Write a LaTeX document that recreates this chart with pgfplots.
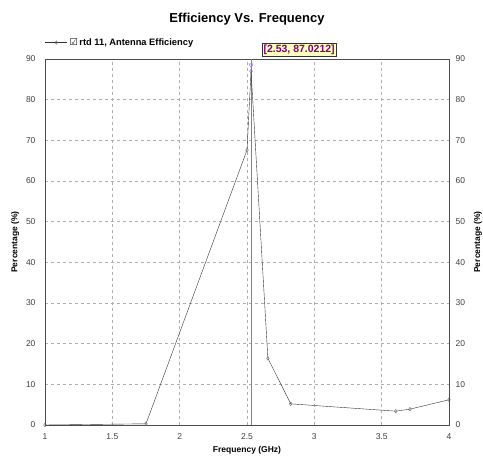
\documentclass[border=0pt]{standalone}
\usepackage{pgfplots}
\pgfplotsset{compat=1.18}
\usepackage{fontspec}
\setmainfont{Liberation Sans}
\newfontfamily\symfont{DejaVu Sans}
\definecolor{gridgray}{RGB}{175,175,175}
\definecolor{cursorblue}{rgb}{0.45,0.45,1}
\definecolor{tipfill}{RGB}{255,255,190}
\definecolor{tiptext}{RGB}{128,0,128}
\begin{document}
\begin{tikzpicture}
\pgfplotsset{
  common/.style={
    width=404pt, height=366pt, scale only axis,
    xmin=1, xmax=4, ymin=0, ymax=90,
    ytick={0,10,...,90},
    major tick length=0pt,
    tick label style={font=\fontsize{8.5}{10}\selectfont, text=black!75},
    label style={font=\bfseries\fontsize{8.5}{10}\selectfont},
    /pgf/number format/assume math mode=true,
  }
}
\begin{axis}[common,
    name=main,
    clip=false,
    axis line style={black!70},
    grid=major,
    grid style={gridgray, dashed},
    xtick={1,1.5,...,4},
    xticklabel style={yshift=-5pt},
    yticklabel style={xshift=-6pt},
    xlabel={Frequency (GHz)},
    ylabel={Percentage (\%)},
    xlabel style={yshift=0pt},
    ylabel style={yshift=0pt},
    title={Efficiency Vs. Frequency},
    title style={font=\bfseries\fontsize{13}{15}\selectfont, yshift=24pt},
    legend style={at={(0,1.045)}, anchor=west, draw=none, fill=none,
      font=\bfseries\fontsize{9.3}{10}\selectfont, inner sep=0pt,
      legend cell align=left},
    legend image code/.code={
      \draw[#1, mark repeat=2, mark phase=2] plot coordinates {(0pt,0pt) (11pt,0pt) (22pt,0pt)};
    },
  ]
  % cursor, drawn first
  \addplot[draw=cursorblue, line width=1pt, mark=none, forget plot]
    coordinates {(2.53,0) (2.53,90)};
  \addplot[black!80, thin, mark=diamond, mark size=1.8pt,
    mark options={black!60, fill=white, solid}] coordinates {
    (1,0)
    (1.75,0.3)
    (2.5,67.6)
    (2.53,87.02)
    (2.655,16.4)
    (2.825,5.2)
    (3.605,3.4)
    (3.71,3.9)
    (4,6.2)
  };
  \addlegendentry{{\normalfont\symfont ☑}\,rtd 11, Antenna Efficiency}
  \addplot[cursorblue, only marks, mark=triangle, mark size=2.5pt,
    mark options={rotate=180}, forget plot] coordinates {(2.53,88.5)};
  \node[draw=black!80, fill=tipfill, text=tiptext, inner sep=1.5pt,
    font=\bfseries\fontsize{10.5}{12}\selectfont, anchor=south west]
    at (axis cs:2.61,90.75) {[2.53, 87.0212]};
\end{axis}
\begin{axis}[common,
    axis x line=none,
    axis y line*=right,
    axis line style={black!70},
    yticklabel style={xshift=3pt},
    ylabel={Percentage (\%)},
    ylabel style={yshift=-2pt},
  ]
\end{axis}
\path (main.south west) ++(-45pt,-31pt) coordinate (bl);
\path (main.north east) ++(34pt,59pt) coordinate (tr);
\pgfresetboundingbox
\path[use as bounding box] (bl) rectangle (tr);
\end{tikzpicture}
\end{document}
